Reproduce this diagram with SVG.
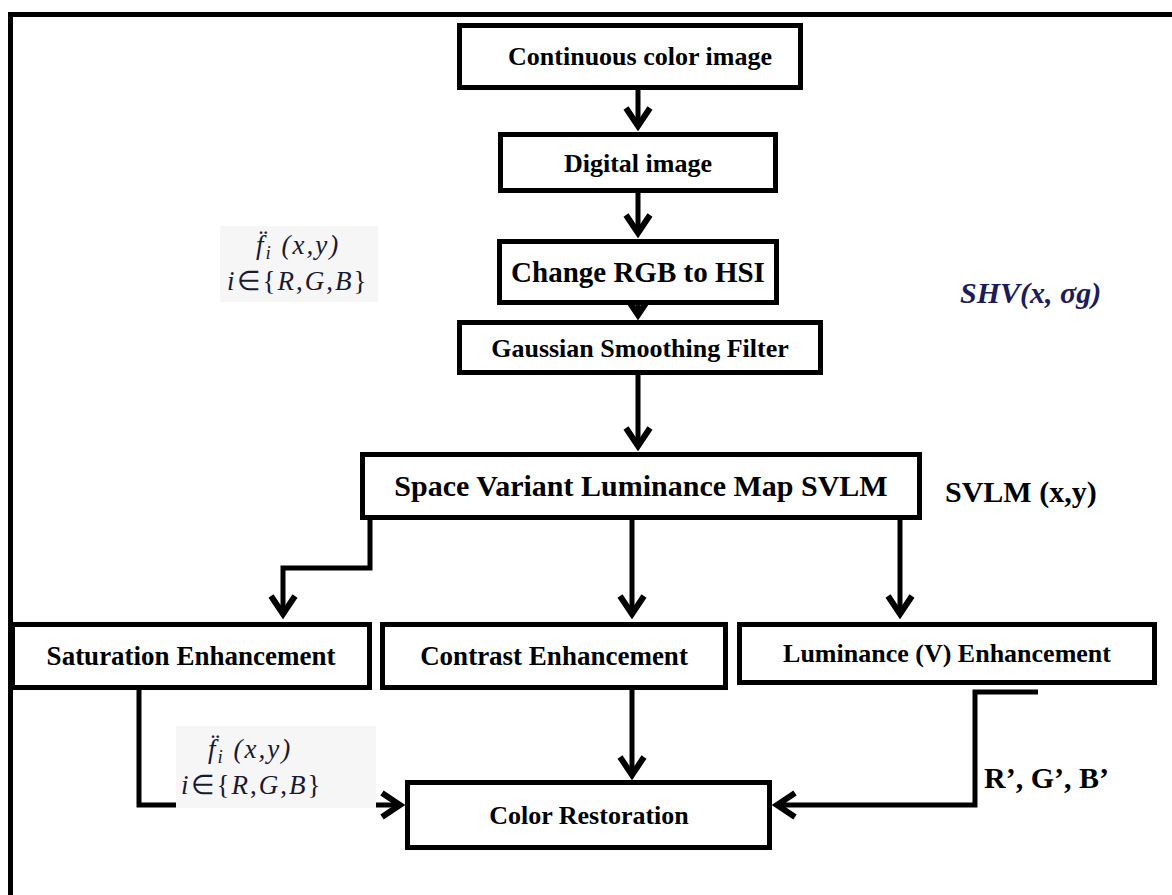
<svg xmlns="http://www.w3.org/2000/svg" width="1172" height="895" viewBox="0 0 1172 895">
<defs>
<style>
.box{fill:#fff;stroke:#000;stroke-width:5}
.lbl{font-family:"Liberation Serif","Times New Roman",serif;font-weight:bold;fill:#000;text-anchor:middle}
.con{fill:none;stroke:#000;stroke-width:5}
.math{font-family:"Liberation Serif","Times New Roman",serif;font-style:italic;font-size:27px;letter-spacing:2px;fill:#1a1a2e}
.note{font-family:"Liberation Serif","Times New Roman",serif;font-weight:bold;font-size:30px;fill:#000}
</style>
<marker id="arr" viewBox="-26 -15 30 30" refX="0" refY="0" markerWidth="30" markerHeight="30" orient="auto" markerUnits="userSpaceOnUse">
<path d="M-19,-12 L-1,0 L-19,12" fill="none" stroke="#000" stroke-width="6"/>
</marker>
</defs>
<rect width="1172" height="895" fill="#fff"/>
<path d="M10.5,895 V14.5 H1172" fill="none" stroke="#000" stroke-width="5"/>

<g id="connectors">
<path class="con" d="M638,90 V127" marker-end="url(#arr)"/>
<path class="con" d="M638,193 V234" marker-end="url(#arr)"/>
<path class="con" d="M638,305 V316" marker-end="url(#arr)"/>
<path class="con" d="M638,375 V447" marker-end="url(#arr)"/>
<path class="con" d="M370,520 V568 H283 V615" marker-end="url(#arr)"/>
<path class="con" d="M632,520 V615" marker-end="url(#arr)"/>
<path class="con" d="M900,520 V615" marker-end="url(#arr)"/>
<path class="con" d="M139,690 V805 H401" marker-end="url(#arr)"/>
<path class="con" d="M632,690 V776" marker-end="url(#arr)"/>
<path class="con" d="M1038,692 H975 V805 H776" marker-end="url(#arr)"/>
</g>

<g id="n1"><rect class="box" x="459.5" y="25.5" width="341" height="62"/><text class="lbl" x="640" y="65" font-size="26">Continuous color image</text></g>
<g id="n2"><rect class="box" x="500.5" y="134.5" width="275" height="56"/><text class="lbl" x="638" y="172" font-size="26">Digital image</text></g>
<g id="n3"><rect class="box" x="499.5" y="241.5" width="277" height="61"/><text class="lbl" x="638" y="282" font-size="29">Change RGB to HSI</text></g>
<g id="n4"><rect class="box" x="459.5" y="322.5" width="361" height="50"/><text class="lbl" x="640" y="357" font-size="26">Gaussian Smoothing Filter</text></g>
<g id="n5"><rect class="box" x="362.5" y="454.5" width="557" height="63"/><text class="lbl" x="641" y="496" font-size="30">Space Variant Luminance Map SVLM</text></g>
<g id="n6"><rect class="box" x="12.5" y="624.5" width="357" height="63"/><text class="lbl" x="191" y="665" font-size="27">Saturation Enhancement</text></g>
<g id="n7"><rect class="box" x="382.5" y="624.5" width="343" height="63"/><text class="lbl" x="554" y="665" font-size="27">Contrast Enhancement</text></g>
<g id="n8"><rect class="box" x="739.5" y="624.5" width="415" height="58"/><text class="lbl" x="947" y="662" font-size="26">Luminance (V) Enhancement</text></g>
<g id="n9"><rect class="box" x="407.5" y="782.5" width="362" height="65"/><text class="lbl" x="589" y="824" font-size="26">Color Restoration</text></g>

<g id="math1">
<rect x="220" y="226" width="158" height="76" fill="#f6f6f6"/>
<text class="math" x="256" y="254">f̈<tspan font-size="19" dy="5">i</tspan><tspan dy="-5"> (x,y)</tspan></text>
<text class="math" x="227" y="290">i<tspan font-style="normal">∈{</tspan>R<tspan font-style="normal">,</tspan>G<tspan font-style="normal">,</tspan>B<tspan font-style="normal">}</tspan></text>
</g>
<g id="math2">
<rect x="176" y="726" width="200" height="82" fill="#f6f6f6"/>
<text class="math" x="208" y="758">f̈<tspan font-size="19" dy="5">i</tspan><tspan dy="-5"> (x,y)</tspan></text>
<text class="math" x="181" y="794">i<tspan font-style="normal">∈{</tspan>R<tspan font-style="normal">,</tspan>G<tspan font-style="normal">,</tspan>B<tspan font-style="normal">}</tspan></text>
</g>
<text x="960" y="303" font-family="'Liberation Serif','Times New Roman',serif" font-weight="bold" font-style="italic" font-size="30" fill="#1c1c5a">SHV(x, σg)</text>
<text class="note" x="945" y="502">SVLM (x,y)</text>
<text class="note" x="984" y="788">R’, G’, B’</text>
</svg>
